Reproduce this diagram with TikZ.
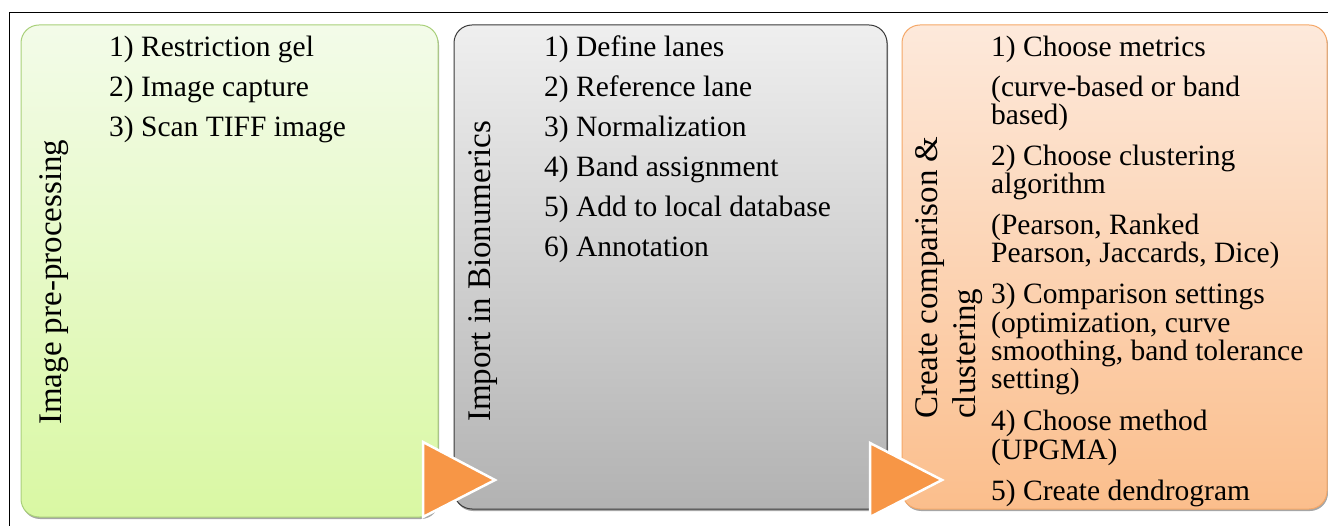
\documentclass[tikz,border=0pt]{standalone}
\usepackage{fontspec}
\setmainfont{Liberation Serif}
\usetikzlibrary{shadows}

\definecolor{greenTop}{HTML}{F3FBE9}
\definecolor{greenBot}{HTML}{D9F8A3}
\definecolor{greenLine}{HTML}{A9D07A}
\definecolor{grayTop}{HTML}{EFEFEF}
\definecolor{grayBot}{HTML}{B2B2B2}
\definecolor{grayLine}{HTML}{3A3A3A}
\definecolor{orangeTop}{HTML}{FDE9DB}
\definecolor{orangeBot}{HTML}{FBBE8C}
\definecolor{orangeLine}{HTML}{F5A868}
\definecolor{arrowFill}{HTML}{F79646}

\begin{document}
\begin{tikzpicture}[x=1pt,y=-1pt,
  panel/.style={rectangle, rounded corners=18pt, inner sep=0pt, line width=1pt,
    drop shadow={shadow xshift=1pt, shadow yshift=-2pt, fill=black, opacity=0.35}},
  stepline/.style={anchor=base west, inner sep=0pt, font=\fontsize{29.5}{30}\selectfont},
  stagelabel/.style={rotate=90, anchor=base west, inner sep=0pt, font=\fontsize{33}{34}\selectfont},
  flowarrow/.style={fill=arrowFill, draw=white, line width=2.5pt, line join=miter}]

\useasboundingbox (0,0) rectangle (1328,526);
\fill[white] (0,0) rectangle (1328,526);

% frame
\draw[line width=1.5pt] (9.5,526) -- (9.5,12.5) -- (1328,12.5);

% stage panels
\node[panel, minimum width=417pt, minimum height=492pt,
  top color=greenTop, bottom color=greenBot, draw=greenLine] (prep) at (229.5,271) {};
\node[panel, minimum width=433pt, minimum height=484pt,
  top color=grayTop, bottom color=grayBot, draw=grayLine] (import) at (670.5,267) {};
\node[panel, minimum width=425pt, minimum height=484pt,
  top color=orangeTop, bottom color=orangeBot, draw=orangeLine] (cluster) at (1114.5,267) {};

% stage titles
\node[stagelabel] (prepT) at (61,425) {Image pre-processing};
\node[stagelabel] (importT) at (490,422) {Import in Bionumerics};
\node[stagelabel] (clusterT) at (937,419) {Create comparison \&};
\node[stagelabel] (clusterT2) at (975,419) {clustering};

% steps: image pre-processing
\node[stepline] (p1) at (109,57) {1) Restriction gel};
\node[stepline] (p2) at (109,97) {2) Image capture};
\node[stepline] (p3) at (109,137) {3) Scan TIFF image};

% steps: import
\node[stepline] (i1) at (544,57) {1) Define lanes};
\node[stepline] (i2) at (544,97) {2) Reference lane};
\node[stepline] (i3) at (544,137) {3) Normalization};
\node[stepline] (i4) at (544,177) {4) Band assignment};
\node[stepline] (i5) at (544,217) {5) Add to local database};
\node[stepline] (i6) at (544,257) {6) Annotation};

% steps: comparison and clustering
\node[stepline] (c1) at (991,57) {1) Choose metrics};
\node[stepline] (c2a) at (991,97) {(curve-based or band};
\node[stepline] (c2b) at (991,125) {based)};
\node[stepline] (c3a) at (991,166) {2) Choose clustering};
\node[stepline] (c3b) at (991,194) {algorithm};
\node[stepline] (c4a) at (991,235) {(Pearson, Ranked};
\node[stepline] (c4b) at (991,263) {Pearson, Jaccards, Dice)};
\node[stepline] (c5a) at (991,304) {3) Comparison settings};
\node[stepline] (c5b) at (991,333) {(optimization, curve};
\node[stepline] (c5c) at (991,361) {smoothing, band tolerance};
\node[stepline] (c5d) at (991,389) {setting)};
\node[stepline] (c6a) at (991,430) {4) Choose method};
\node[stepline] (c6b) at (991,459) {(UPGMA)};
\node[stepline] (c7) at (991,500) {5) Create dendrogram};

% flow arrows between panels
\draw[flowarrow] (423,442) -- (495,480) -- (423,517) -- cycle;
\draw[flowarrow] (870,443) -- (942,480) -- (870,517) -- cycle;

\end{tikzpicture}
\end{document}
